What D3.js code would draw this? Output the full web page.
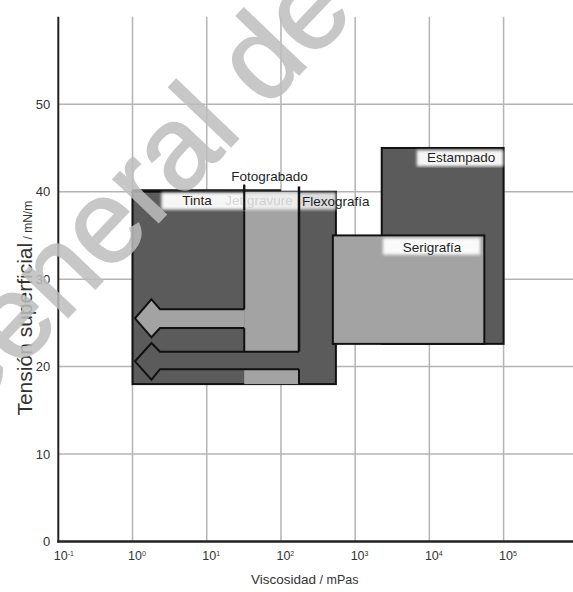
<!DOCTYPE html>
<html>
<head>
<meta charset="utf-8">
<script src="https://cdnjs.cloudflare.com/ajax/libs/d3/7.8.5/d3.min.js"></script>
<style>
  body { margin: 0; background: #fff; }
  text { font-family: "Liberation Sans", Arial, sans-serif; }
</style>
</head>
<body>
<div id="chart"></div>
<script>
// DATA ---------------------------------------------------------------------
const xTickExp = [-1, 0, 1, 2, 3, 4, 5];
const yTicks = [0, 10, 20, 30, 40, 50];

// printing processes: viscosity range (mPas) and surface tension range (mN/m)
const processes = ["Tinta", "Flexografía", "Fotograbado", "Estampado", "Serigrafía"];
const viscLow  = [1,   175, 32,  2280,   500];
const viscHigh = [550, 550, 175, 100000, 55000];
const tensLow  = [18,  18,  18,  22.6,   22.6];
const tensHigh = [40,  40.6, 40.8, 45,   35];

// arrows leaving the Fotograbado / Flexografía strips towards low viscosity
const arrowNames   = ["Fotograbado", "Flexografía"];
const arrowFrom    = [32, 175];         // viscosity where the band leaves its strip
const arrowBandLo  = [24.4, 19.7];
const arrowBandHi  = [26.55, 21.7];
const arrowHeadLo  = [23.35, 18.5];
const arrowHeadHi  = [27.7, 22.7];
const arrowTipVisc = 1.08;
const arrowBaseVisc = 2.35;
const arrowBarbVisc = 1.8;

// CHART --------------------------------------------------------------------
const W = 573, H = 592;
const dark = '#5b5b5b', light = '#a3a3a3';

const svg = d3.select('#chart').append('svg')
  .attr('width', W).attr('height', H);

const defs = svg.append('defs');
defs.append('filter').attr('id', 'soft')
  .append('feGaussianBlur').attr('stdDeviation', 1.6);

const x = d3.scaleLog().domain([0.1, 1e5]).range([58.3, 503.6]);
const y = d3.scaleLinear().domain([0, 60]).range([541.5, 16.8]);

// grid
svg.append('g').selectAll('line')
  .data(xTickExp.slice(1))
  .join('line')
  .attr('x1', d => x(Math.pow(10, d))).attr('x2', d => x(Math.pow(10, d)))
  .attr('y1', y(0)).attr('y2', y(60))
  .attr('stroke', '#b4b4b4').attr('stroke-width', 1.5);

svg.append('g').selectAll('line')
  .data(yTicks.slice(1))
  .join('line')
  .attr('x1', x(0.1)).attr('x2', W)
  .attr('y1', d => y(d)).attr('y2', d => y(d))
  .attr('stroke', '#b4b4b4').attr('stroke-width', 1.5);

// regions
const idx = n => processes.indexOf(n);
function rect(n, fill) {
  const i = idx(n);
  return svg.append('rect')
    .attr('x', x(viscLow[i])).attr('width', x(viscHigh[i]) - x(viscLow[i]))
    .attr('y', y(tensHigh[i])).attr('height', y(tensLow[i]) - y(tensHigh[i]))
    .attr('fill', fill);
}

// big ink box
rect('Tinta', dark).attr('stroke', '#111').attr('stroke-width', 2);

// Fotograbado strip (light)
const fo = idx('Fotograbado');
svg.append('rect')
  .attr('x', x(viscLow[fo])).attr('width', x(viscHigh[fo]) - x(viscLow[fo]))
  .attr('y', y(40)).attr('height', y(18) - y(40))
  .attr('fill', light);

function arrowPath(k) {
  const f = arrowFrom[k];
  return d3.line()([
    [x(f), y(arrowBandHi[k])],
    [x(arrowBaseVisc), y(arrowBandHi[k])],
    [x(arrowBarbVisc), y(arrowHeadHi[k])],
    [x(arrowTipVisc), y((arrowHeadHi[k] + arrowHeadLo[k]) / 2)],
    [x(arrowBarbVisc), y(arrowHeadLo[k])],
    [x(arrowBaseVisc), y(arrowBandLo[k])],
    [x(f), y(arrowBandLo[k])]
  ]);
}

// Fotograbado arrow
svg.append('path').attr('d', arrowPath(0) + 'Z').attr('fill', light);
svg.append('path').attr('d', arrowPath(0)).attr('fill', 'none')
  .attr('stroke', '#111').attr('stroke-width', 2);
svg.append('line')
  .attr('x1', x(viscLow[fo])).attr('x2', x(viscLow[fo]))
  .attr('y1', y(tensHigh[fo])).attr('y2', y(arrowBandHi[0]))
  .attr('stroke', '#111').attr('stroke-width', 2);
svg.append('line')
  .attr('x1', x(viscLow[fo])).attr('x2', x(viscLow[fo]))
  .attr('y1', y(arrowBandLo[0])).attr('y2', y(arrowBandHi[1]))
  .attr('stroke', '#111').attr('stroke-width', 2);

// Flexografía arrow
const fl = idx('Flexografía');
svg.append('path').attr('d', arrowPath(1) + 'Z').attr('fill', dark);
svg.append('path').attr('d', arrowPath(1)).attr('fill', 'none')
  .attr('stroke', '#111').attr('stroke-width', 2);

// heavy top edge over ink box
svg.append('line')
  .attr('x1', x(1)).attr('x2', x(100))
  .attr('y1', y(40.15)).attr('y2', y(40.15))
  .attr('stroke', '#111').attr('stroke-width', 2.5);

// Estampado and Serigrafía
rect('Estampado', dark).attr('stroke', '#111').attr('stroke-width', 2);
rect('Serigrafía', light).attr('stroke', '#111').attr('stroke-width', 2);

// label highlights
function glow(x0, x1, t0, t1, op) {
  svg.append('rect')
    .attr('x', x(x0)).attr('width', x(x1) - x(x0))
    .attr('y', y(t1)).attr('height', y(t0) - y(t1))
    .attr('fill', '#fff').attr('opacity', op)
    .attr('filter', 'url(#soft)');
}
glow(2.45, 32, 37.95, 39.9, 0.95);
glow(32, 550, 37.95, 39.9, 0.8);
glow(6760, 99000, 42.9, 44.75, 0.95);
glow(2370, 48400, 32.8, 34.7, 0.95);

// Flexografía strip edges drawn over the highlight
svg.append('line')
  .attr('x1', x(viscLow[fl])).attr('x2', x(viscLow[fl]))
  .attr('y1', y(tensHigh[fl])).attr('y2', y(arrowBandHi[1]))
  .attr('stroke', '#111').attr('stroke-width', 2.5);
svg.append('line')
  .attr('x1', x(viscLow[fl])).attr('x2', x(viscLow[fl]))
  .attr('y1', y(arrowBandLo[1])).attr('y2', y(18))
  .attr('stroke', '#111').attr('stroke-width', 2);
svg.append('line')
  .attr('x1', x(viscLow[fo])).attr('x2', x(viscLow[fo]))
  .attr('y1', y(tensHigh[fo])).attr('y2', y(37.9))
  .attr('stroke', '#111').attr('stroke-width', 2);

svg.append('text').attr('x', x(17.7)).attr('y', y(38.45))
  .attr('font-size', 13.5).attr('fill', '#bbb').attr('opacity', 0.55)
  .text('Jet gravure');

// labels
const labels = [
  ['Tinta', 7.4, 38.45, 'middle'],
  ['Fotograbado', 70, 41.25, 'middle'],
  ['Flexografía', 192, 38.4, 'start'],
  ['Estampado', 26700, 43.4, 'middle'],
  ['Serigrafía', 10870, 33.05, 'middle']
];
svg.append('g').selectAll('text')
  .data(labels)
  .join('text')
  .attr('x', d => x(d[1])).attr('y', d => y(d[2]))
  .attr('text-anchor', d => d[3])
  .attr('font-size', 13.5).attr('fill', '#1e1e1e')
  .text(d => d[0]);

// axes
const yAxis = d3.axisLeft(y).tickValues(yTicks).tickSize(0).tickPadding(8);
const gy = svg.append('g').attr('transform', `translate(${x(0.1)},0)`).call(yAxis);
gy.select('.domain').remove();
gy.selectAll('text').attr('font-size', 13).attr('fill', '#333')
  .attr('font-family', '"Liberation Sans", Arial, sans-serif');

const xAxis = d3.axisBottom(x).tickValues(xTickExp.map(e => Math.pow(10, e)))
  .tickSize(0).tickPadding(8).tickFormat(() => '');
const gx = svg.append('g').attr('transform', `translate(0,${y(0)})`).call(xAxis);
gx.select('.domain').remove();
gx.selectAll('.tick text')
  .data(xTickExp)
  .attr('text-anchor', 'start').attr('x', -5).attr('dy', '0.85em')
  .attr('font-size', 12.5).attr('fill', '#333')
  .attr('font-family', '"Liberation Sans", Arial, sans-serif')
  .each(function(e) {
    const t = d3.select(this);
    t.append('tspan').text('10');
    t.append('tspan').attr('font-size', 7).attr('dy', '-0.6em').text(e);
  });

svg.append('line')
  .attr('x1', x(0.1)).attr('x2', x(0.1))
  .attr('y1', y(0) + 1).attr('y2', y(60))
  .attr('stroke', '#222').attr('stroke-width', 2);
svg.append('line')
  .attr('x1', x(0.1) - 1).attr('x2', W)
  .attr('y1', y(0)).attr('y2', y(0))
  .attr('stroke', '#222').attr('stroke-width', 2.5);

// axis titles
const yt = svg.append('text')
  .attr('transform', `translate(32,${y(14.4)}) rotate(-90)`)
  .attr('fill', '#333');
yt.append('tspan').attr('font-size', 21).text('Tensión superficial');
yt.append('tspan').attr('font-size', 12).text(' / mN/m');

const xt = svg.append('text')
  .attr('x', 251).attr('y', 584).attr('fill', '#333');
xt.append('tspan').attr('font-size', 13.5).text('Viscosidad');
xt.append('tspan').attr('font-size', 12.5).text(' / mPas');

// watermark
svg.append('text')
  .attr('transform', 'translate(-46,437) rotate(-46.4)')
  .attr('font-size', 118).attr('fill', '#bebebe')
  .attr('stroke', '#bebebe').attr('stroke-width', 2)
  .attr('opacity', 0.85)
  .text('General de B');
</script>
</body>
</html>
